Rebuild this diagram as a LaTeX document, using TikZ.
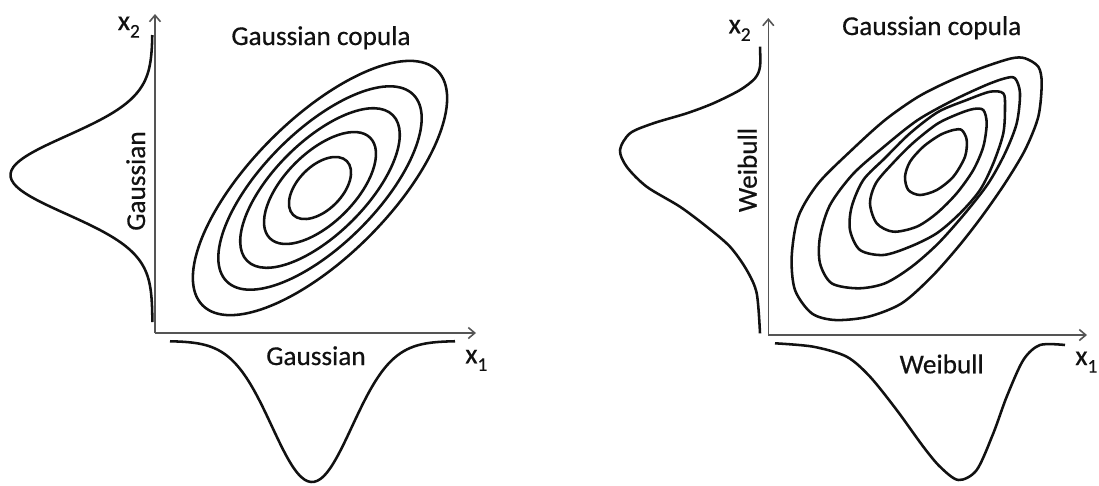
\documentclass[tikz,border=0pt]{standalone}
\usepackage{fontspec}
\setmainfont{Carlito}
\newfontfamily\lblfont{Carlito}[FakeBold=0.5]
\usepackage{tikz}
\usetikzlibrary{arrows.meta}
\definecolor{AxisGray}{HTML}{555555}
\definecolor{InkBlack}{HTML}{111111}

\begin{document}
\begin{tikzpicture}[
  x=0.02cm, y=-0.02cm,
  axis/.style={draw=AxisGray, line width=0.9pt,
    -{Straight Barb[length=1.3mm,width=2.2mm]}},
  curve/.style={draw=InkBlack, line width=1.45pt, line join=round},
  contour/.style={curve},
  lbl/.style={font=\lblfont\fontsize{15.5}{18}\selectfont, text=InkBlack, inner sep=0pt},
  var/.style={font=\lblfont\fontsize{16}{18}\selectfont, text=InkBlack, inner sep=0pt,
    anchor=base west},
]
% axis variable with lowered index
\newcommand{\xsub}[1]{x\raisebox{-4.3pt}{\fontsize{11}{11}\selectfont #1}}

\useasboundingbox (0,0) rectangle (1099,485);

% ---------- Left panel: Gaussian margins ----------
\coordinate (lo)  at (155,333);
\coordinate (lxe) at (476,333);
\coordinate (lye) at (155,14);
\coordinate (lc)  at (320,188);
\draw[axis] (lo) -- (lxe);
\draw[axis] (lo) -- (lye);

% marginal densities
\draw[curve] plot[domain=35:322, samples=90, smooth]
  ({152.5-142*exp(-0.5*((\x-175)/39)^2)}, {\x});
\draw[curve] plot[domain=170:455, samples=90, smooth]
  ({\x}, {341+141*exp(-0.5*((\x-312)/40)^2)});

% copula contours
\foreach \a/\b in {166/69,132/57,103/46,71/35,38/22}
  \draw[contour, rotate around={45:(lc)}] (lc) ellipse ({\a} and {\b});

\node[lbl, anchor=base] (lcop) at (321,45) {Gaussian copula};
\node[lbl, anchor=base] (lmx) at (316,365) {Gaussian};
\node[lbl, anchor=base, rotate=90] (lmy) at (145,181) {Gaussian};
\node[var] (lx2) at (117.5,30) {\xsub{2}};
\node[var] (lx1) at (465,363.3) {\xsub{1}};

% ---------- Right panel: Weibull margins ----------
\coordinate (ro)  at (768.3,335);
\coordinate (rxe) at (1087,335);
\coordinate (rye) at (768.3,18);
\draw[axis] (ro) -- (rxe);
\draw[axis] (ro) -- (rye);

% marginal densities
\draw[curve] plot[smooth] coordinates {
  (760,46.7) (760,66.7) (755,78.3) (740,90) (713.3,103.3) (686.7,113.3)
  (653.3,123.3) (630,133.3) (620,150) (626.7,166.7) (646.7,186.7)
  (680,206.7) (706.7,226.7) (730,246.7) (746.7,270) (756.7,293.3) (760,333.3)};
\draw[curve] plot[smooth] coordinates {
  (775,343.3) (813.3,346.7) (846.7,356.7) (870,376.7) (896.7,410)
  (923.3,446.7) (940,466.7) (958.3,480) (976.7,470) (993.3,433.3)
  (1006.7,396.7) (1023.3,360) (1040,345) (1065,345)};

% copula contours (outer to inner)
\draw[contour] plot[smooth cycle] coordinates {
  (1025,58.3) (1038.3,66.7) (1041.7,83.3) (1038.3,116.7) (1025,150)
  (1005,183.3) (981.7,216.7) (958.3,246.7) (931.7,276.7) (901.7,303.3)
  (868.3,316.7) (835,320) (811.7,313.3) (795,290) (791.7,256.7)
  (798.3,216.7) (818.3,183.3) (851.7,150) (885,120) (918.3,96.7)
  (951.7,80) (985,66.7) (1011.7,58.3)};
\draw[contour] plot[smooth cycle] coordinates {
  (1015,78.3) (1020,93.3) (1016.7,123.3) (1005,153.3) (988.3,183.3)
  (965,213.3) (938.3,243.3) (911.7,266.7) (885,283.3) (858.3,288.3)
  (831.7,283.3) (820,263.3) (820,236.7) (830,205) (853,174)
  (883,147.5) (917,120.5) (951.7,101) (985,85.5) (1005,78.3)};
\draw[contour] plot[smooth cycle] coordinates {
  (1003.3,93.3) (1005,106.7) (1003.3,133.3) (993.3,163.3) (980,190)
  (960,213.3) (936.7,233.3) (910,246.7) (883.3,255) (860,250)
  (850,230) (851.7,206.7) (863.3,180) (885,158) (910,133.3)
  (938,112) (966.7,100) (990,91.7)};
\draw[contour] plot[smooth cycle] coordinates {
  (983.3,110) (986.7,123.3) (983.3,146.7) (973.3,170) (956.7,193.3)
  (936.7,213.3) (916.7,226.7) (893.3,231.7) (876.7,223.3) (870,203.3)
  (876,183) (893,163) (913,143) (937,124) (958,114)
  (973.3,109)};
\draw[contour] plot[smooth cycle] coordinates {
  (961.7,130) (966.7,140) (965,156.7) (953.3,176.7) (936.7,190)
  (920,195) (908.3,190) (905,176.7) (910,161.7) (923.3,146.7)
  (940,135) (953.3,130)};

\node[lbl, anchor=base] (rcop) at (931.7,35) {Gaussian copula};
\node[lbl, anchor=base] (rmx) at (941.7,373.3) {Weibull};
\node[lbl, anchor=base, rotate=90] (rmy) at (756.7,170) {Weibull};
\node[var] (rx2) at (728.3,33.3) {\xsub{2}};
\node[var] (rx1) at (1075,365) {\xsub{1}};

\end{tikzpicture}
\end{document}
